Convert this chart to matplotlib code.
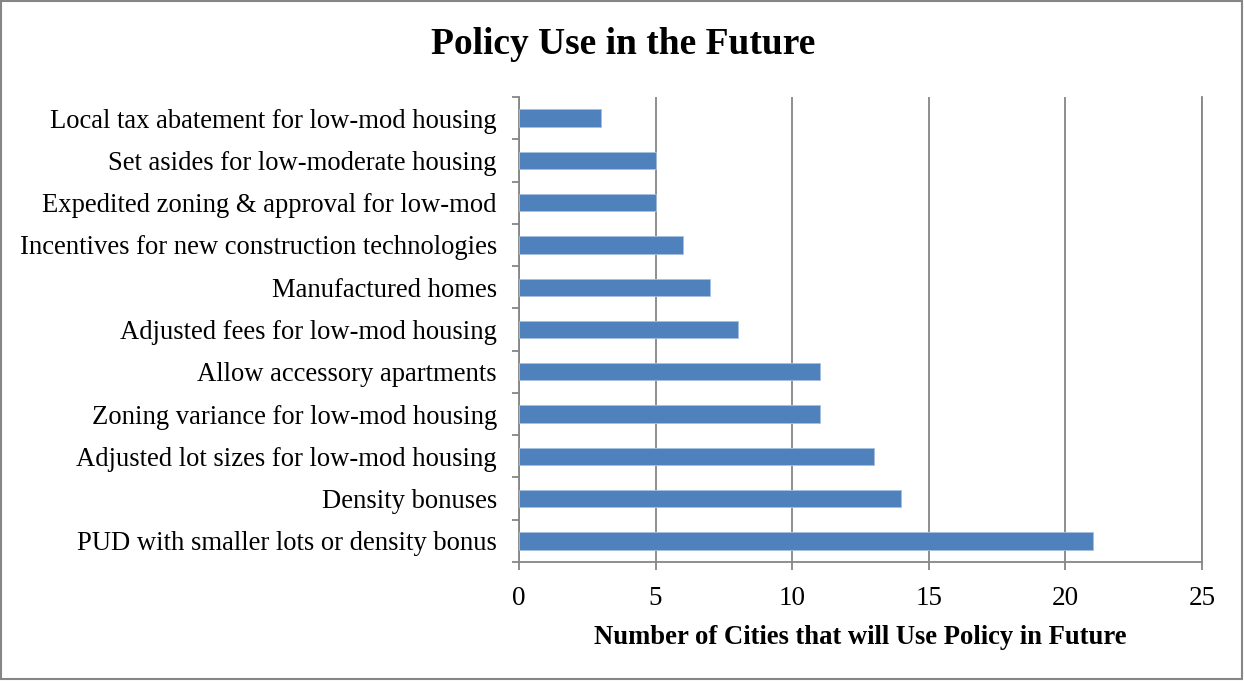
import matplotlib
matplotlib.use("Agg")
import matplotlib.pyplot as plt
from matplotlib.patches import Rectangle

# Policies, bottom to top as drawn
policies = [
    "PUD with smaller lots or density bonus",
    "Density bonuses",
    "Adjusted lot sizes for low-mod housing",
    "Zoning variance for low-mod housing",
    "Allow accessory apartments",
    "Adjusted fees for low-mod housing",
    "Manufactured homes",
    "Incentives for new construction technologies",
    "Expedited zoning & approval for low-mod",
    "Set asides for low-moderate housing",
    "Local tax abatement for low-mod housing",
]
cities = [21, 14, 13, 11, 11, 8, 7, 6, 5, 5, 3]
x_ticks = [0, 5, 10, 15, 20, 25]

plt.rcParams["font.family"] = ["Liberation Serif", "DejaVu Serif"]

W, H = 1244, 681
fig = plt.figure(figsize=(W / 100, H / 100), dpi=100)
ax = fig.add_axes([519 / W, 1 - 562 / H, (1202 - 519) / W, (562 - 97) / H])

grid_col = "#868686"
ypos = list(range(len(policies)))
ax.barh(ypos, cities, height=0.41, color="#4F81BD", edgecolor="#A7C0E0",
        linewidth=0.6, zorder=3)

ax.set_xlim(0, 25)
ax.set_ylim(-0.5, len(policies) - 0.5)
ax.set_xticks(x_ticks)
ax.set_xticklabels([str(t) for t in x_ticks], fontsize=19.5)
ax.xaxis.grid(True, color=grid_col, linewidth=1.3, zorder=0)

# category labels sit between boundary tick marks
ax.set_yticks(ypos)
ax.set_yticklabels(policies, fontsize=19.2)
ax.tick_params(axis="y", length=0, pad=16)
ax.set_yticks([i - 0.5 for i in range(len(policies) + 1)], minor=True)
ax.tick_params(axis="y", which="minor", length=5, color=grid_col, width=1.3)
ax.tick_params(axis="x", length=6, color=grid_col, width=1.3, pad=11)

ax.spines["top"].set_visible(False)
for side in ["left", "bottom", "right"]:
    ax.spines[side].set_color(grid_col)
    ax.spines[side].set_linewidth(1.3)

ax.set_xlabel("Number of Cities that will Use Policy in Future",
              fontsize=19.2, fontweight="bold", labelpad=10)
fig.text(623 / W, 1 - 44 / H, "Policy Use in the Future", fontsize=27,
         fontweight="bold", ha="center", va="center")

# thin frame round the whole chart area
fig.patches.append(Rectangle((1 / W, 2.5 / H), 1 - 3 / W, 1 - 3.5 / H,
                             transform=fig.transFigure, fill=False,
                             edgecolor="#868686", linewidth=1.5))

fig.savefig("out.png", dpi=100)
